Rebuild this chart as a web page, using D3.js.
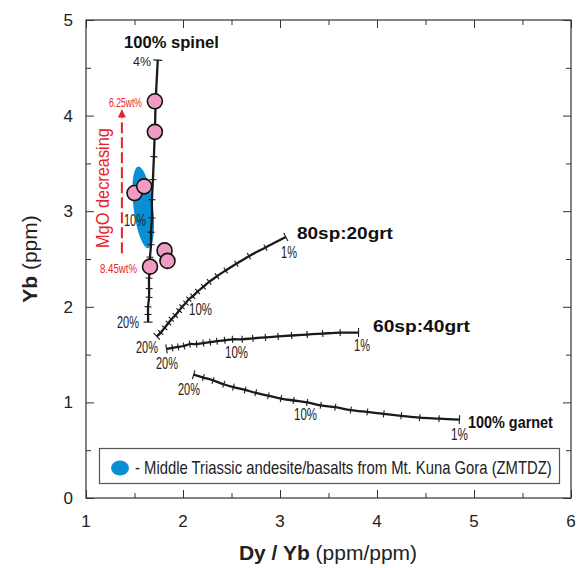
<!DOCTYPE html>
<html>
<head>
<meta charset="utf-8">
<script src="https://cdn.jsdelivr.net/npm/d3@7"></script>
<style>
  body { margin: 0; background: #fff; }
  text { font-family: "Liberation Sans", Arial, sans-serif; }
</style>
</head>
<body>
<svg id="drawing_region"></svg>
<script>
// melting degree (%) for every tick, from 20% down to 1%
const meltPct = [20,19,18,17,16,15,14,13,12,11,10,9,8,7,6,5,4,3,2,1];

// 100% spinel, 20% .. 4%
const spinelPct = [20,19,18,17,16,15,14,13,12,11,10,9,8,7,6,5,4];
const spinelDyYb = [1.64,1.64,1.64,1.65,1.65,1.65,1.66,1.66,1.67,1.67,1.68,1.68,1.69,1.70,1.71,1.72,1.74];
const spinelYb   = [1.84,1.92,2.00,2.10,2.19,2.30,2.41,2.52,2.65,2.78,2.93,3.12,3.33,3.57,3.85,4.18,4.58];

// 80sp:20grt
const sp80DyYb = [1.73,1.77,1.81,1.85,1.88,1.92,1.96,1.99,2.03,2.06,2.10,2.15,2.21,2.27,2.35,2.44,2.55,2.68,2.85,3.06];
const sp80Yb   = [1.69,1.73,1.78,1.83,1.87,1.91,1.96,2.00,2.04,2.08,2.11,2.16,2.21,2.26,2.32,2.38,2.45,2.53,2.62,2.73];

// 60sp:40grt
const sp60DyYb = [1.83,1.89,1.95,2.01,2.07,2.14,2.21,2.28,2.35,2.43,2.51,2.61,2.72,2.85,2.98,3.12,3.28,3.44,3.62,3.81];
const sp60Yb   = [1.56,1.57,1.58,1.59,1.61,1.61,1.62,1.63,1.64,1.65,1.66,1.66,1.67,1.68,1.69,1.70,1.71,1.72,1.73,1.73];

// 100% garnet
const grtDyYb = [2.11,2.21,2.31,2.42,2.52,2.64,2.75,2.88,3.01,3.14,3.28,3.42,3.57,3.73,3.90,4.07,4.25,4.44,4.64,4.85];
const grtYb   = [1.29,1.26,1.23,1.19,1.16,1.13,1.10,1.07,1.04,1.02,1.00,0.97,0.95,0.92,0.90,0.88,0.86,0.84,0.83,0.82];

// Kuna Gora samples
const sampleDyYb = [1.71,1.71,1.50,1.60,1.81,1.84,1.66];
const sampleYb   = [4.15,3.83,3.19,3.26,2.59,2.48,2.42];

// field of Middle Triassic andesite/basalts
const fieldCenter = [1.59, 3.04];
const fieldRadius = [0.10, 0.43];

const xTicks = [1,2,3,4,5,6];
const yTicks = [0,1,2,3,4,5];

const config = {
    parent: '#drawing_region',
    width: 581,
    height: 568,
    margin: {top:20, right:10, bottom:70, left:86}
};

const svg = d3.select(config.parent)
    .attr('width', config.width)
    .attr('height', config.height);

const inner_width = 485;
const inner_height = 478;

const chart = svg.append('g')
    .attr('transform', `translate(${config.margin.left}, ${config.margin.top})`);

const xscale = d3.scaleLinear().domain([1, 6]).range([0, inner_width]);
const yscale = d3.scaleLinear().domain([0, 5]).range([inner_height, 0]);

// frame ticks (inward), major and half steps
const minorX = d3.range(1.5, 6, 1);
const minorY = d3.range(0.5, 5, 1);
const axisColor = '#333';

function addAxis(axisFn, scale, values, size, transform) {
    chart.append('g')
        .attr('transform', transform)
        .call(axisFn(scale).tickValues(values).tickSize(size).tickFormat(''))
        .call(g => g.select('.domain').remove())
        .selectAll('line').attr('stroke', axisColor);
}
addAxis(d3.axisBottom, xscale, xTicks, -8, `translate(0,${inner_height})`);
addAxis(d3.axisBottom, xscale, minorX, -5, `translate(0,${inner_height})`);
addAxis(d3.axisTop, xscale, xTicks, -8, 'translate(0,0)');
addAxis(d3.axisTop, xscale, minorX, -5, 'translate(0,0)');
addAxis(d3.axisLeft, yscale, yTicks, -8, 'translate(0,0)');
addAxis(d3.axisLeft, yscale, minorY, -5, 'translate(0,0)');
addAxis(d3.axisRight, yscale, yTicks, -8, `translate(${inner_width},0)`);
addAxis(d3.axisRight, yscale, minorY, -5, `translate(${inner_width},0)`);

chart.append('rect')
    .attr('width', inner_width)
    .attr('height', inner_height)
    .attr('fill', 'none')
    .attr('stroke', axisColor)
    .attr('stroke-width', 1.2);

// tick labels
chart.selectAll('.xlab').data(xTicks).enter().append('text')
    .attr('x', d => xscale(d))
    .attr('y', inner_height + 29)
    .attr('text-anchor', 'middle')
    .style('font-size', '17px')
    .attr('fill', '#222')
    .text(d => d);

chart.selectAll('.ylab').data(yTicks).enter().append('text')
    .attr('x', -13)
    .attr('y', d => yscale(d) + 6)
    .attr('text-anchor', 'end')
    .style('font-size', '17px')
    .attr('fill', '#222')
    .text(d => d);

// axis titles
const xt = svg.append('text')
    .attr('x', 328)
    .attr('y', 560)
    .attr('text-anchor', 'middle')
    .style('font-size', '21px')
    .attr('fill', '#222');
xt.append('tspan').style('font-weight', 'bold').text('Dy / Yb');
xt.append('tspan').text(' (ppm/ppm)');

const yt = svg.append('text')
    .attr('transform', 'translate(37, 259) rotate(-90)')
    .attr('text-anchor', 'middle')
    .style('font-size', '21px')
    .attr('fill', '#222');
yt.append('tspan').style('font-weight', 'bold').text('Yb');
yt.append('tspan').text(' (ppm)');

// blue field
const fc = [xscale(fieldCenter[0]), yscale(fieldCenter[1])];
chart.append('ellipse')
    .attr('cx', fc[0])
    .attr('cy', fc[1])
    .attr('rx', xscale(fieldCenter[0] + fieldRadius[0]) - fc[0])
    .attr('ry', yscale(fieldCenter[1]) - yscale(fieldCenter[1] + fieldRadius[1]))
    .attr('transform', `rotate(-7, ${fc[0]}, ${fc[1]})`)
    .attr('fill', '#0a8fd6');

// melting curves
const line = d3.line()
    .x(d => xscale(d.x))
    .y(d => yscale(d.y))
    .curve(d3.curveCatmullRom);

function drawCurve(xs, ys, tickLen) {
    const pts = xs.map((x, i) => ({x: x, y: ys[i]}));
    chart.append('path')
        .attr('d', line(pts))
        .attr('fill', 'none')
        .attr('stroke', '#1a1a1a')
        .attr('stroke-width', 2.3);
    const px = pts.map(p => [xscale(p.x), yscale(p.y)]);
    px.forEach((p, i) => {
        const a = px[Math.max(i - 1, 0)];
        const b = px[Math.min(i + 1, px.length - 1)];
        const dx = b[0] - a[0], dy = b[1] - a[1];
        const len = Math.hypot(dx, dy);
        const nx = -dy / len, ny = dx / len;
        const L = (i === 0 || i === px.length - 1) ? tickLen + 1 : tickLen;
        chart.append('line')
            .attr('x1', p[0] - nx * L).attr('y1', p[1] - ny * L)
            .attr('x2', p[0] + nx * L).attr('y2', p[1] + ny * L)
            .attr('stroke', '#1a1a1a')
            .attr('stroke-width', 1.1);
    });
}

drawCurve(spinelDyYb, spinelYb, 3.5);
drawCurve(sp80DyYb, sp80Yb, 3.5);
drawCurve(sp60DyYb, sp60Yb, 3.5);
drawCurve(grtDyYb, grtYb, 3.5);

// the original uses a narrow face: squeeze horizontally to the measured width
function narrowText(parent, x, y, t, width, size, color, bold, rotate) {
    const txt = parent.append('text')
        .style('font-size', size + 'px')
        .style('font-weight', bold ? 'bold' : 'normal')
        .attr('fill', color)
        .text(t);
    const sx = width / txt.node().getComputedTextLength();
    txt.attr('transform', `translate(${x},${y})` + (rotate ? ` rotate(${rotate})` : '') + ` scale(${sx},1)`);
    return txt;
}

// percent labels, given in page pixels
function pctLabel(x, y, t, w, size, color) {
    return narrowText(chart, x - config.margin.left, y - config.margin.top, t, w, size || 16, color || '#222');
}
pctLabel(133, 66, '4%', 18, 13);
pctLabel(124, 226, '10%', 22);
pctLabel(117, 328, '20%', 22);
pctLabel(281, 258, '1%', 16);
pctLabel(189, 315, '10%', 23);
pctLabel(136, 353, '20%', 22);
pctLabel(354, 351, '1%', 16);
pctLabel(225, 358, '10%', 23);
pctLabel(156, 369, '20%', 22);
pctLabel(178, 395, '20%', 22);
pctLabel(294, 420, '10%', 23);
pctLabel(451, 440, '1%', 17);

function modelLabel(x, y, t, w, size) {
    return narrowText(chart, x - config.margin.left, y - config.margin.top, t, w, size || 17, '#111', true);
}
modelLabel(124, 48, '100% spinel', 95, 16);
modelLabel(297, 239, '80sp:20grt', 96);
modelLabel(373, 332, '60sp:40grt', 97);
modelLabel(468, 428, '100% garnet', 85);

// MgO annotation
const red = '#e8232b';
chart.append('line')
    .attr('x1', xscale(1.37)).attr('y1', yscale(2.56))
    .attr('x2', xscale(1.37)).attr('y2', yscale(3.98))
    .attr('stroke', red)
    .attr('stroke-width', 2)
    .attr('stroke-dasharray', '11,4');
chart.append('path')
    .attr('d', d3.line()([[xscale(1.37) - 4, yscale(3.98)], [xscale(1.37), yscale(4.07)], [xscale(1.37) + 4, yscale(3.98)]]) + 'Z')
    .attr('fill', red);
narrowText(chart, 109 - config.margin.left, 248 - config.margin.top, 'MgO decreasing', 120, 18, red, false, -90);
pctLabel(109, 107, '6.25wt%', 33, 12, red);
pctLabel(100, 273, '8.45wt%', 37, 12, red);

// samples
chart.selectAll('circle')
    .data(sampleDyYb.map((x, i) => ({x: x, y: sampleYb[i]})))
    .enter()
    .append('circle')
    .attr('cx', d => xscale(d.x))
    .attr('cy', d => yscale(d.y))
    .attr('r', 7.5)
    .attr('fill', '#f09bc4')
    .attr('stroke', '#111')
    .attr('stroke-width', 1.6);

// legend
const legend = svg.append('g');
legend.append('rect')
    .attr('x', 99.5).attr('y', 448.5)
    .attr('width', 460).attr('height', 35)
    .attr('fill', '#fff')
    .attr('stroke', '#555')
    .attr('stroke-width', 1.2);
legend.append('ellipse')
    .attr('cx', 120).attr('cy', 468)
    .attr('rx', 9).attr('ry', 7.5)
    .attr('fill', '#0a8fd6');
narrowText(legend, 135, 474, '- Middle Triassic andesite/basalts from Mt. Kuna Gora (ZMTDZ)', 417, 19, '#222');
</script>
</body>
</html>
